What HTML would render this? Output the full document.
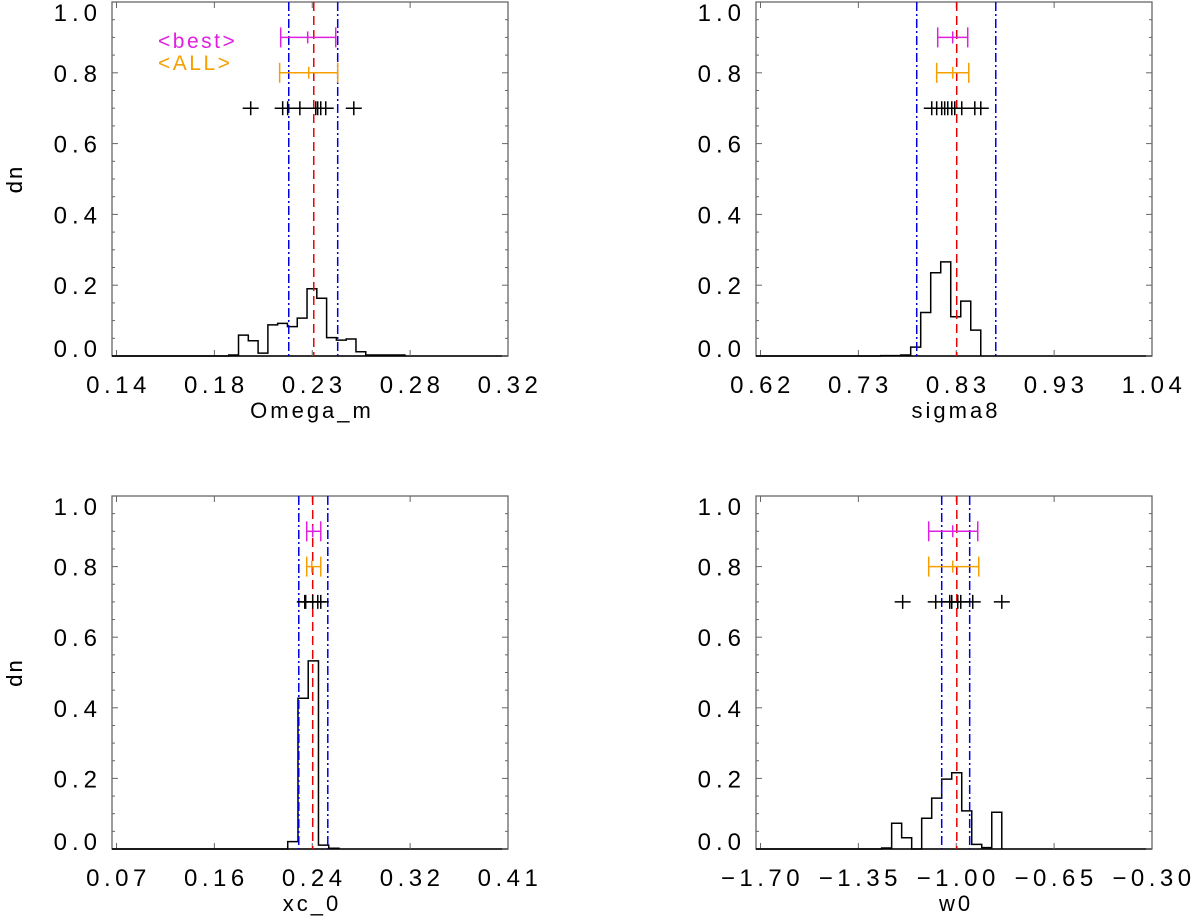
<!DOCTYPE html>
<html><head><meta charset="utf-8"><style>
body{margin:0;background:#fff;}
svg{display:block;font-family:"Liberation Sans",sans-serif;}
</style></head><body>
<svg id="chart" width="1200" height="917" viewBox="0 0 1200 917" xmlns="http://www.w3.org/2000/svg"></svg>
<script>
// ---- data (per panel) ----
const omegaHistStart = 0.1916, omegaBin = 0.0045;
const omegaHist = [0.003,0.059,0.043,0.008,0.088,0.092,0.083,0.107,0.19,0.163,0.052,0.045,0.048,0.012,0.003,0.003,0.003,0.003];
const omegaLines = [0.2307, 0.2192, 0.2417];
const omegaBest = [0.2155, 0.2279, 0.2408];
const omegaAll = [0.2150, 0.2284, 0.2417];
const omegaCrosses = [0.2017,0.2164,0.2187,0.2243,0.2316,0.2325,0.2339,0.2362,0.2491];
const omegaTicks = ["0.14","0.18","0.23","0.28","0.32"];

const sigmaHistStart = 0.7489, sigmaBin = 0.01074;
const sigmaHist = [0.001,0.001,0.003,0.025,0.123,0.235,0.266,0.111,0.155,0.073];
const sigmaLines = [0.8305, 0.7876, 0.8724];
const sigmaBest = [0.8101, 0.8262, 0.8423];
const sigmaAll = [0.8090, 0.8262, 0.8434];
const sigmaCrosses = [0.8037,0.8090,0.8144,0.8176,0.8209,0.8252,0.8284,0.8359,0.8499,0.8563];
const sigmaTicks = ["0.62","0.73","0.83","0.93","1.04"];

const xcHistStart = 0.2187, xcBin = 0.0089;
const xcHist = [0.021,0.427,0.533,0.011,0.002];
const xcLines = [0.2404, 0.2283, 0.2535];
const xcBest = [0.2352, 0.2404, 0.2474];
const xcAll = [0.2352, 0.2396, 0.2474];
const xcCrosses = [0.2335,0.2343,0.2404,0.2448,0.2474];
const xcTicks = ["0.07","0.16","0.24","0.32","0.41"];

const wHistStart = -1.2668, wBin = 0.0358;
const wHist = [0.003,0.073,0.032,0,0.087,0.144,0.198,0.216,0.108,0.013,0.004,0.104];
const wLines = [-0.998, -1.052, -0.952];
const wBest = [-1.0985, -1.0126, -0.9231];
const wAll = [-1.0985, -1.0126, -0.9195];
const wCrosses = [-1.1916,-1.0734,-1.0233,-1.0161,-0.9947,-0.9839,-0.9410,-0.8371];
const wTicks = ["\u22121.70","\u22121.35","\u22121.00","\u22120.65","\u22120.30"];

const yTickLabels = ["0.0","0.2","0.4","0.6","0.8","1.0"];

const svg = document.getElementById('chart');
const NS = 'http://www.w3.org/2000/svg';
function mk(tag, attrs, parent){
  const e = document.createElementNS(NS, tag);
  for (const k in attrs) e.setAttribute(k, attrs[k]);
  (parent||svg).appendChild(e);
  return e;
}

function panel(cfg){
  const g = mk('g', {});
  
  
  const {L,R,T,B,xmin,xmax} = cfg;
  const x0 = L + 4.5;
  const sx = v => x0 + (v - xmin) / (xmax - xmin) * (R - x0);
  const sy = v => B - v * (B - T);
  const box = mk('rect', {x:L, y:T, width:R-L, height:B-T, fill:'none', stroke:'#666', 'stroke-width':1.3}, g);
  
  
  mk('line', {x1:L, y1:B, x2:R, y2:B, stroke:'#000', 'stroke-width':1.5}, g);
  for (let i = 0; i <= 20; i++) {
    const v = i * 0.05, y = sy(v), len = (i % 4 === 0) ? 6 : 3;
    mk('line', {x1:L, y1:y, x2:L+len, y2:y, stroke:'#666', 'stroke-width':1}, g);
    mk('line', {x1:R, y1:y, x2:R-len, y2:y, stroke:'#666', 'stroke-width':1}, g);
  }
  yTickLabels.forEach((lab, i) => {
    let y = sy(i * 0.2) + 9;
    if (i === 0) y -= 8;
    if (i === 5) y += 10;
    const t = mk('text', {x:L-10, y:y, 'text-anchor':'end', 'font-size':24, 'letter-spacing':5, fill:'#000'}, g);
    t.textContent = lab;
    
    
  });
  cfg.ticks.forEach((lab, i) => {
    const x = x0 + i * (R - x0) / (cfg.ticks.length - 1);
    mk('line', {x1:x, y1:B, x2:x, y2:B-6, stroke:'#666', 'stroke-width':1}, g);
    mk('line', {x1:x, y1:T, x2:x, y2:T+6, stroke:'#666', 'stroke-width':1}, g);
    const t = mk('text', {x:x+2, y:B+37, 'text-anchor':'middle', 'font-size':24, 'letter-spacing':4.5, fill:'#000'}, g);
    t.textContent = lab;
    
    
  });
  const xt = mk('text', {x:(L+R)/2+2, y:B+62, 'text-anchor':'middle', 'font-size':22, 'letter-spacing':3, fill:'#000'}, g);
  xt.textContent = cfg.title;
  
  
  const yt = mk('text', {x:0, y:0, 'text-anchor':'middle', 'font-size':22, 'letter-spacing':2, fill:'#000', transform:`translate(22,${(T+B)/2}) rotate(-90)`}, g);
  yt.textContent = 'dn';
  
  
  let d = `M${L},${B} L${sx(cfg.hStart)},${B}`;
  cfg.hist.forEach((v, i) => {
    const xa = sx(cfg.hStart + i * cfg.bin), xb = sx(cfg.hStart + (i + 1) * cfg.bin);
    d += ` L${xa},${sy(v)} L${xb},${sy(v)}`;
  });
  d += ` L${sx(cfg.hStart + cfg.hist.length * cfg.bin)},${B}`;
  const h = mk('path', {d:d, fill:'none', stroke:'#000', 'stroke-width':1.5}, g);
  
  
  const red = mk('line', {x1:sx(cfg.lines[0]), y1:T, x2:sx(cfg.lines[0]), y2:B, stroke:'#e00', 'stroke-width':1.5, 'stroke-dasharray':'9,5'}, g);
  
  
  [cfg.lines[1], cfg.lines[2]].forEach(v => {
    const bl = mk('line', {x1:sx(v), y1:T, x2:sx(v), y2:B, stroke:'#00d', 'stroke-width':1.5, 'stroke-dasharray':'9,3,2,3'}, g);
    
    
  });
  [[cfg.best, '#e020e0', 0.9, 'best-errorbar'], [cfg.all, '#f5a000', 0.8, 'all-errorbar']].forEach(([eb, col, yv, nm]) => {
    const y = sy(yv);
    const eg = mk('g', {stroke:col, 'stroke-width':1.5}, g);
    
    
    mk('line', {x1:sx(eb[0]), y1:y, x2:sx(eb[2]), y2:y}, eg);
    mk('line', {x1:sx(eb[0]), y1:y-10, x2:sx(eb[0]), y2:y+10}, eg);
    mk('line', {x1:sx(eb[2]), y1:y-10, x2:sx(eb[2]), y2:y+10}, eg);
    mk('line', {x1:sx(eb[1]), y1:y-6, x2:sx(eb[1]), y2:y+6}, eg);
  });
  const cy = sy(0.7);
  cfg.crosses.forEach(v => {
    const c = mk('path', {d:`M${sx(v)-8},${cy} h16 M${sx(v)},${cy-7} v14`, stroke:'#000', 'stroke-width':1.5, fill:'none'}, g);
    
    
  });
}

panel({name:'omega-m', L:112, R:508, T:2, B:356, xmin:0.14, xmax:0.32, ticks:omegaTicks, title:'Omega_m',
  hStart:omegaHistStart, bin:omegaBin, hist:omegaHist, lines:omegaLines, best:omegaBest, all:omegaAll, crosses:omegaCrosses});
panel({name:'sigma8', L:756, R:1152, T:2, B:356, xmin:0.62, xmax:1.04, ticks:sigmaTicks, title:'sigma8',
  hStart:sigmaHistStart, bin:sigmaBin, hist:sigmaHist, lines:sigmaLines, best:sigmaBest, all:sigmaAll, crosses:sigmaCrosses});
panel({name:'xc-0', L:112, R:508, T:496, B:849, xmin:0.07, xmax:0.41, ticks:xcTicks, title:'xc_0',
  hStart:xcHistStart, bin:xcBin, hist:xcHist, lines:xcLines, best:xcBest, all:xcAll, crosses:xcCrosses});
panel({name:'w0', L:756, R:1152, T:496, B:849, xmin:-1.70, xmax:-0.30, ticks:wTicks, title:'w0',
  hStart:wHistStart, bin:wBin, hist:wHist, lines:wLines, best:wBest, all:wAll, crosses:wCrosses});

const lb = mk('text', {x:158, y:48, 'font-size':21, 'letter-spacing':2.5, fill:'#e020e0'});
lb.textContent = '<best>';


const la = mk('text', {x:158, y:70, 'font-size':21, 'letter-spacing':2.5, fill:'#f5a000'});
la.textContent = '<ALL>';


</script>
</body></html>
